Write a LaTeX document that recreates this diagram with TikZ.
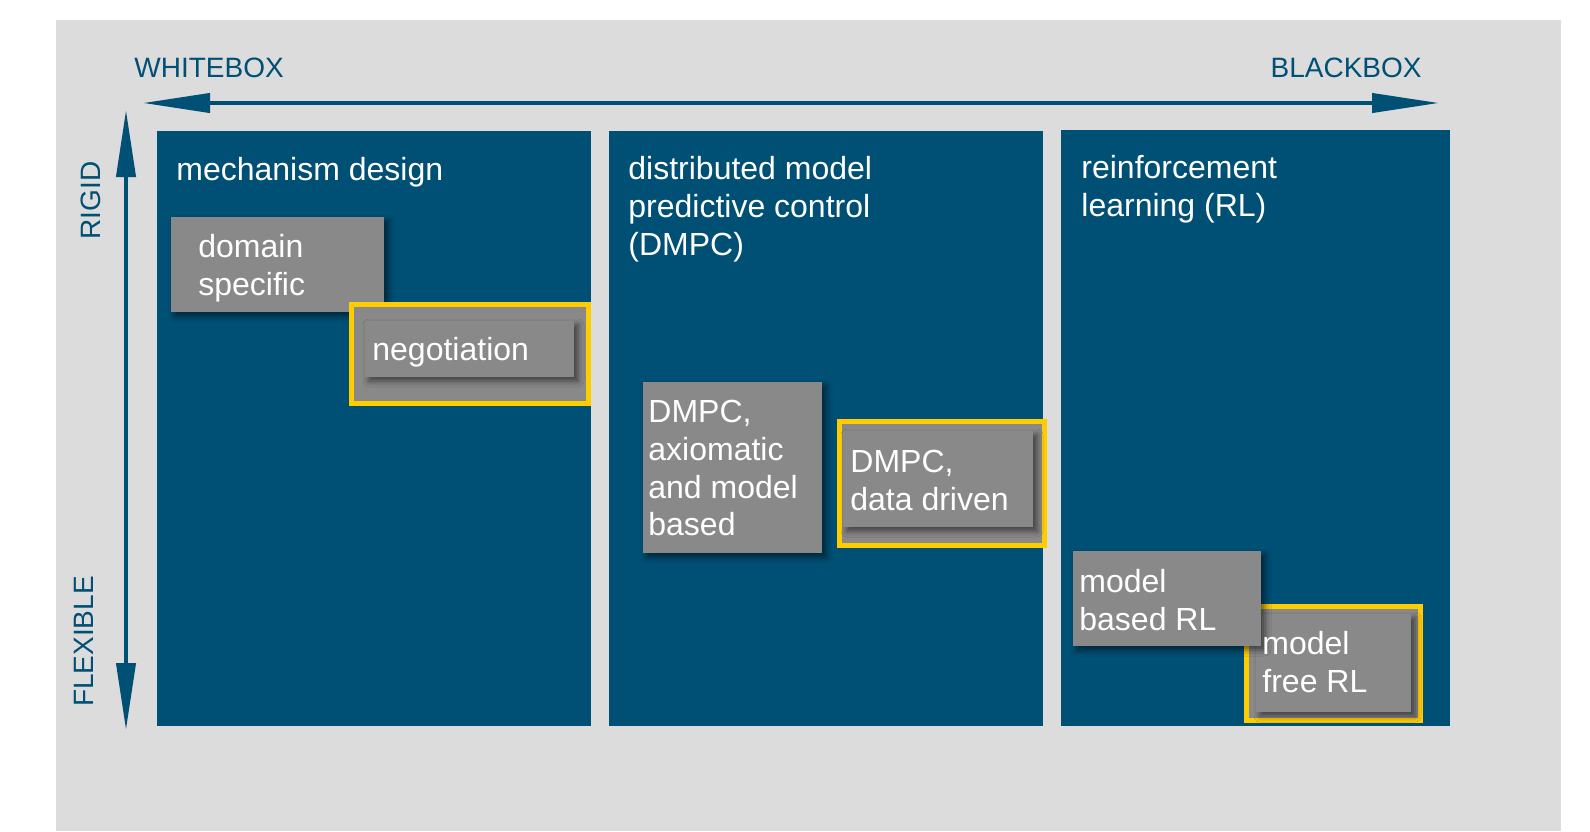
\documentclass[tikz,border=0pt]{standalone}
\usepackage{fontspec}
\setmainfont{Liberation Sans}
\usetikzlibrary{arrows.meta,shadows.blur}
\definecolor{panelblue}{HTML}{004F74}
\definecolor{canvasgrey}{HTML}{DCDCDC}
\definecolor{boxgrey}{HTML}{898989}
\definecolor{markyellow}{HTML}{FFCC00}
\tikzset{
  axislabel/.style={text=panelblue, font=\fontsize{14}{16.8}\selectfont, inner sep=0pt},
  txt/.style={text=white, font=\fontsize{16}{18.9}\selectfont, inner sep=0pt,
              anchor=north west, yshift=13.23pt, align=left},
  panel/.style={fill=panelblue},
  greybox/.style={fill=boxgrey, blur shadow={shadow xshift=2pt, shadow yshift=-2pt,
              shadow blur radius=3pt, shadow opacity=55}},
  highlight/.style={draw=markyellow, line width=2.5pt, fill=boxgrey},
  axisarrow/.style={draw=panelblue, line width=2pt,
              {Triangle[length=33.5pt,width=9.5pt]}-{Triangle[length=33.5pt,width=9.5pt]}},
}
\begin{document}
\begin{tikzpicture}[x=0.5pt,y=-0.5pt]
  % page and grey canvas
  \useasboundingbox (0,0) rectangle (1590,831);
  \fill[white] (0,0) rectangle (1590,831);
  \fill[canvasgrey] (56,20) rectangle (1561,831);

  % three category panels
  \fill[panel] (157,131) rectangle (591,726);
  \fill[panel] (609,131) rectangle (1043,726);
  \fill[panel] (1061,130) rectangle (1450,726);

  % axes
  \coordinate (wb) at (143,103);
  \coordinate (bb) at (1439,103);
  \coordinate (rg) at (126,110);
  \coordinate (fx) at (126,730);
  \draw[axisarrow] (wb) -- (bb);
  \draw[axisarrow] (rg) -- (fx);

  \node[axislabel, anchor=base west] (whitebox) at (134,77) {WHITEBOX};
  \node[axislabel, anchor=base east] (blackbox) at (1422,77) {BLACKBOX};
  \node[axislabel, anchor=base, rotate=90] (rigid) at (100,200.5) {RIGID};
  \node[axislabel, anchor=base, rotate=90] (flexible) at (93,641.5) {FLEXIBLE};

  % mechanism design
  \fill[greybox] (171,217) rectangle (384,312);
  \path[highlight] (351.5,304.5) rectangle (588.5,403.5);
  \fill[greybox] (365,321) rectangle (574,377);

  % DMPC
  \fill[greybox] (643,382) rectangle (822,553);
  \path[highlight] (839.5,421.5) rectangle (1044.5,545.5);
  \fill[greybox] (843,431) rectangle (1033,527);

  % reinforcement learning
  \path[highlight] (1246.5,606.5) rectangle (1420.5,720.5);
  \fill[greybox] (1256,614) rectangle (1411,712);
  \fill[greybox] (1073,551) rectangle (1261,646);

  % texts
  \node[txt] (t1) at (176,180) {\strut mechanism design};
  \node[txt] (t2) at (628,179) {\strut distributed model\\predictive control\\(DMPC)};
  \node[txt] (t3) at (1081,178) {\strut reinforcement\\learning (RL)};
  \node[txt] (domain) at (198,257) {\strut domain\\specific};
  \node[txt] (nego) at (372,360) {\strut negotiation};
  \node[txt] (axiom) at (648,422) {\strut DMPC,\\axiomatic\\and model\\based};
  \node[txt] (datadr) at (850,472) {\strut DMPC,\\data driven};
  \node[txt] (mbrl) at (1079,592) {\strut model\\based RL};
  \node[txt] (mfrl) at (1262,654) {\strut model\\free RL};
\end{tikzpicture}
\end{document}
